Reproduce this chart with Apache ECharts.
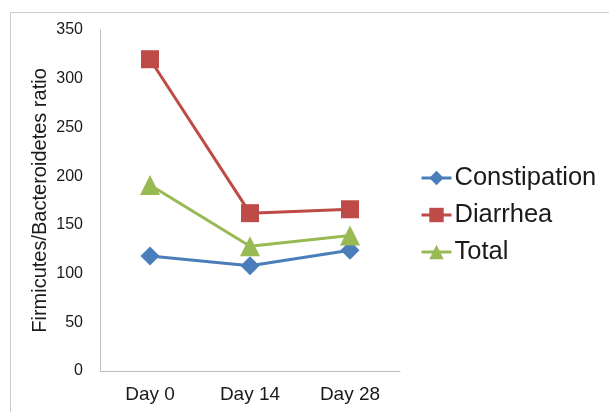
<!DOCTYPE html>
<html>
<head>
<meta charset="utf-8">
<script src="https://cdn.jsdelivr.net/npm/echarts@6/dist/echarts.min.js"></script>
<style>
html,body{margin:0;padding:0;background:#fff;}
#c{width:609px;height:412px;}
</style>
</head>
<body>
<div id="c"></div>
<script>
var categories = ['Day 0', 'Day 14', 'Day 28'];
var constipation = [118, 108, 124];
var diarrhea = [320, 162, 166];
var total = [191, 128, 139];
var yTicks = {min: 0, max: 350, interval: 50};

var chart = echarts.init(document.getElementById('c'));
var font = 'Liberation Sans, Arial, sans-serif';
chart.setOption({
  animation: false,
  backgroundColor: '#fff',
  graphic: [{
    type: 'rect',
    shape: {x: 10.5, y: 12.5, width: 700, height: 500},
    style: {fill: 'none', stroke: '#cccccc', lineWidth: 1},
    silent: true
  }],
  grid: {left: 100, right: 209, top: 30, bottom: 41},
  legend: {
    orient: 'vertical',
    left: 415,
    top: 160,
    itemWidth: 30,
    itemHeight: 18,
    itemGap: 11,
    lineStyle: {width: 3},
    textStyle: {fontSize: 25.5, lineHeight: 25, color: '#1a1a1a', fontFamily: font, padding: [0, 0, 0, -2]},
    data: ['Constipation', 'Diarrhea', 'Total']
  },
  xAxis: {
    type: 'category',
    data: categories,
    boundaryGap: true,
    axisLine: {lineStyle: {color: '#bfbfbf', width: 1}},
    axisTick: {show: false},
    axisLabel: {fontSize: 19, color: '#1a1a1a', fontFamily: font, margin: 14}
  },
  yAxis: {
    type: 'value',
    min: yTicks.min,
    max: yTicks.max,
    interval: yTicks.interval,
    name: 'Firmicutes/Bacteroidetes ratio',
    nameLocation: 'middle',
    nameGap: 50,
    nameTextStyle: {fontSize: 20, color: '#1a1a1a', fontFamily: font},
    axisLine: {show: true, lineStyle: {color: '#bfbfbf', width: 1}},
    axisTick: {show: false},
    splitLine: {show: false},
    axisLabel: {fontSize: 16, color: '#1a1a1a', fontFamily: font, margin: 17}
  },
  series: [
    {
      name: 'Constipation', type: 'line', data: constipation,
      symbol: 'diamond', symbolSize: 19,
      lineStyle: {width: 3, color: '#4A7EBB'},
      itemStyle: {color: '#4A7EBB'}
    },
    {
      name: 'Diarrhea', type: 'line', data: diarrhea,
      symbol: 'rect', symbolSize: 18,
      lineStyle: {width: 3, color: '#BE4B48'},
      itemStyle: {color: '#BE4B48'}
    },
    {
      name: 'Total', type: 'line', data: total,
      symbol: 'triangle', symbolSize: 20,
      lineStyle: {width: 3, color: '#98B954'},
      itemStyle: {color: '#98B954'}
    }
  ]
});
</script>
</body>
</html>
